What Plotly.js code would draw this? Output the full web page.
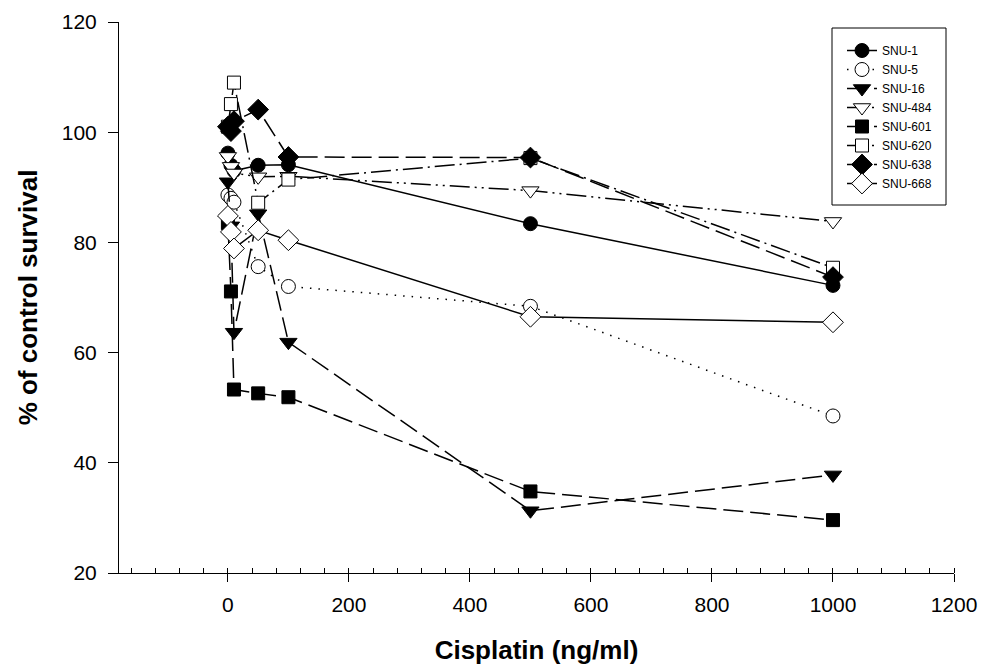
<!DOCTYPE html>
<html>
<head>
<meta charset="utf-8">
<script src="https://cdn.plot.ly/plotly-3.0.1.min.js"></script>
<style>html,body{margin:0;padding:0;background:#fff;}#chart{width:981px;height:666px;}</style>
</head>
<body>
<div id="chart"></div>
<script>
// Cisplatin concentrations (ng/ml)
var doses = [0, 5, 10, 50, 100, 500, 1000];
var seriesNames = ["SNU-1", "SNU-5", "SNU-16", "SNU-484", "SNU-601", "SNU-620", "SNU-638", "SNU-668"];
var snu1   = [96.2, 94.0, 93.0, 94.0, 94.1, 83.4, 72.2];
var snu5   = [88.6, 88.0, 87.3, 75.6, 72.0, 68.4, 48.5];
var snu16  = [91.0, 83.0, 63.7, 85.2, 61.9, 31.3, 37.8];
var snu484 = [95.6, 93.8, 92.6, 91.9, 92.0, 89.4, 83.8];
var snu601 = [83.5, 71.1, 53.3, 52.6, 51.9, 34.8, 29.6];
var snu620 = [101.0, 105.1, 109.0, 87.2, 91.4, 95.3, 75.4];
var snu638 = [101.0, 100.2, 102.0, 104.1, 95.5, 95.4, 73.7];
var snu668 = [84.8, 81.9, 78.9, 82.2, 80.4, 66.5, 65.5];
var xTicks = [0, 200, 400, 600, 800, 1000, 1200];
var yTicks = [20, 40, 60, 80, 100, 120];

var values = [snu1, snu5, snu16, snu484, snu601, snu620, snu638, snu668];
var symbols = ["circle", "circle-open", "triangle-down", "triangle-down-open", "square", "square-open", "diamond", "diamond-open"];
var dashes = ["solid", "1.5px,7px", "20px,7px", "20px,5px,2px,5px,2px,5px", "20px,7px", "20px,5px,2px,5px", "20px,7px", "solid"];
var sizes = [14, 14, 15, 15, 13, 13, 16, 16];

var traces = seriesNames.map(function (name, i) {
  var open = symbols[i].indexOf("open") >= 0;
  return {
    x: doses,
    y: values[i],
    name: name,
    type: "scatter",
    mode: "lines+markers",
    line: {color: "#000", width: 1.5, dash: dashes[i]},
    marker: {
      symbol: open ? symbols[i].replace("-open", "") : symbols[i],
      size: sizes[i],
      color: open ? "#fff" : "#000",
      line: {color: "#000", width: 1}
    }
  };
});

// plot area in px: left 119, right 954, top 22, bottom 573
function px2paperX(p) { return (p - 119) / 835; }
function px2paperY(p) { return (573 - p) / 551; }

var layout = {
  width: 981,
  height: 666,
  margin: {l: 119, r: 27, t: 22, b: 93},
  paper_bgcolor: "#fff",
  plot_bgcolor: "#fff",
  font: {family: "Liberation Sans, Arial, sans-serif", color: "#000"},
  showlegend: true,
  legend: {
    x: px2paperX(842), y: px2paperY(36), xanchor: "left", yanchor: "top",
    borderwidth: 0, bgcolor: "rgba(0,0,0,0)",
    font: {size: 12, family: "Liberation Sans, Arial, sans-serif"}
  },
  shapes: [{
    type: "rect", xref: "paper", yref: "paper",
    x0: px2paperX(832), x1: px2paperX(946), y0: px2paperY(205), y1: px2paperY(28),
    line: {color: "#000", width: 1}, fillcolor: "#fff", layer: "above"
  }],
  xaxis: {
    range: [-180, 1200],
    tickvals: xTicks,
    ticktext: xTicks.map(String),
    ticks: "outside", ticklen: 8, tickcolor: "#000", tickwidth: 1,
    ticklabelstandoff: 5,
    minor: {tick0: 0, dtick: 40, ticks: "inside", ticklen: 5, tickcolor: "#000", tickwidth: 1, showgrid: false},
    showline: true, linecolor: "#000", linewidth: 1,
    showgrid: false, zeroline: false,
    tickfont: {size: 21},
    title: {text: "<b>Cisplatin (ng/ml)</b>", font: {size: 26}, standoff: 25}
  },
  yaxis: {
    range: [20, 120],
    tickvals: yTicks,
    ticktext: yTicks.map(String),
    ticks: "outside", ticklen: 10, tickcolor: "#000", tickwidth: 1,
    ticklabelstandoff: 7,
    showline: true, linecolor: "#000", linewidth: 1,
    showgrid: false, zeroline: false,
    tickfont: {size: 21},
    title: {text: "<b>% of control survival</b>", font: {size: 26}, standoff: 16}
  }
};

Plotly.newPlot("chart", traces, layout, {displayModeBar: false, staticPlot: true});
</script>
</body>
</html>
